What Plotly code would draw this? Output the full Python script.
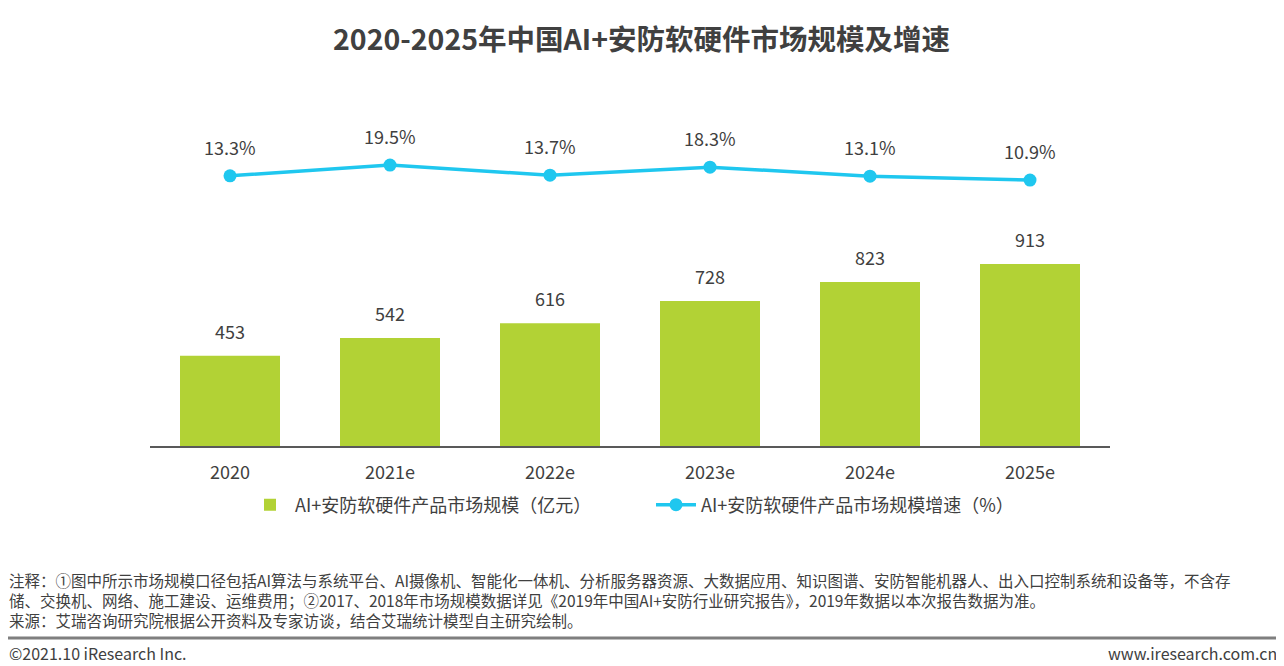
import plotly.graph_objects as go

categories = ["2020", "2021e", "2022e", "2023e", "2024e", "2025e"]
market_size = [453, 542, 616, 728, 823, 913]
growth_rate = [13.3, 19.5, 13.7, 18.3, 13.1, 10.9]

title = "2020-2025年中国AI+安防软硬件市场规模及增速"
bar_name = "AI+安防软硬件产品市场规模（亿元）"
line_name = "AI+安防软硬件产品市场规模增速（%）"
notes = [
    "注释：①图中所示市场规模口径包括AI算法与系统平台、AI摄像机、智能化一体机、分析服务器资源、大数据应用、知识图谱、安防智能机器人、出入口控制系统和设备等，不含存",
    "储、交换机、网络、施工建设、运维费用；②2017、2018年市场规模数据详见《2019年中国AI+安防行业研究报告》，2019年数据以本次报告数据为准。",
    "来源：艾瑞咨询研究院根据公开资料及专家访谈，结合艾瑞统计模型自主研究绘制。",
]
footer_left = "©2021.10 iResearch Inc."
footer_right = "www.iresearch.com.cn"

FONT = "Noto Sans CJK SC"
TXT = "#404040"
BAR_C = "#B2D235"
LINE_C = "#1FC7EF"

OFF = 8  # page body margin
W, H = 1284 - OFF, 666 - OFF
L, R, T, B = 150 - OFF, 1284 - 1110, 100 - OFF, 666 - 446
pw, ph = W - L - R, H - T - B


def px_x(px):
    return (px - OFF - L) / pw


def px_y(py):
    return (H - B - (py - OFF)) / ph


fig = go.Figure()
fig.add_trace(go.Bar(
    x=categories, y=market_size, name=bar_name,
    marker=dict(color=BAR_C, line=dict(width=0)), width=0.625,
    yaxis="y",
))
fig.add_trace(go.Scatter(
    x=categories, y=growth_rate, name=line_name, mode="lines+markers",
    line=dict(color=LINE_C, width=3.5), marker=dict(size=13, color=LINE_C),
    yaxis="y2",
))

anns = []
for i, v in enumerate(market_size):
    anns.append(dict(x=i, y=v, xref="x", yref="y", text=str(v), showarrow=False,
                     yanchor="bottom", yshift=10, font=dict(size=18, color=TXT, family=FONT)))
for i, v in enumerate(growth_rate):
    anns.append(dict(x=i, y=v, xref="x", yref="y2", text=f"{v:.1f}%", showarrow=False,
                     yanchor="bottom", yshift=14, font=dict(size=18, color=TXT, family=FONT)))

note_y = [580, 600, 620]
for t, py in zip(notes, note_y):
    anns.append(dict(x=px_x(7), y=px_y(py), xref="paper", yref="paper", text=t,
                     showarrow=False, xanchor="left", yanchor="middle",
                     font=dict(size=15.5, color=TXT, family=FONT)))
anns.append(dict(x=px_x(7), y=px_y(653), xref="paper", yref="paper", text=footer_left,
                 showarrow=False, xanchor="left", yanchor="middle",
                 font=dict(size=16, color=TXT, family=FONT)))
anns.append(dict(x=px_x(1279), y=px_y(653), xref="paper", yref="paper", text=footer_right,
                 showarrow=False, xanchor="right", yanchor="middle",
                 font=dict(size=16, color=TXT, family=FONT)))
anns.append(dict(x=px_x(641), y=px_y(38), xref="paper", yref="paper",
                 text="<b>" + title + "</b>", showarrow=False, xanchor="center", yanchor="middle",
                 font=dict(size=28.5, color=TXT, family=FONT)))

fig.update_layout(
    width=W, height=H,
    margin=dict(l=L, r=R, t=T, b=B, pad=0),
    paper_bgcolor="white", plot_bgcolor="white",
    font=dict(family=FONT, color=TXT, size=18),
    showlegend=True,
    legend=dict(orientation="h", x=px_x(245), xanchor="left", y=px_y(505), yanchor="middle",
                font=dict(size=18, color=TXT, family=FONT), itemwidth=40,
                traceorder="normal", entrywidthmode="pixels", entrywidth=351),
    xaxis=dict(showline=True, linecolor="#595959", linewidth=2, ticks="",
               showgrid=False, tickfont=dict(size=18, color=TXT), range=[-0.5, 5.5],
               ticklabelstandoff=9),
    yaxis=dict(range=[0, 1736], visible=False, showgrid=False),
    yaxis2=dict(range=[-141.6, 56.8], overlaying="y", visible=False, showgrid=False),
    annotations=anns,
    shapes=[dict(type="line", xref="paper", yref="paper",
                 x0=px_x(0), x1=px_x(1282),
                 y0=px_y(638), y1=px_y(638),
                 line=dict(color="#7f7f7f", width=3))],
)
fig.write_html("out.html")
